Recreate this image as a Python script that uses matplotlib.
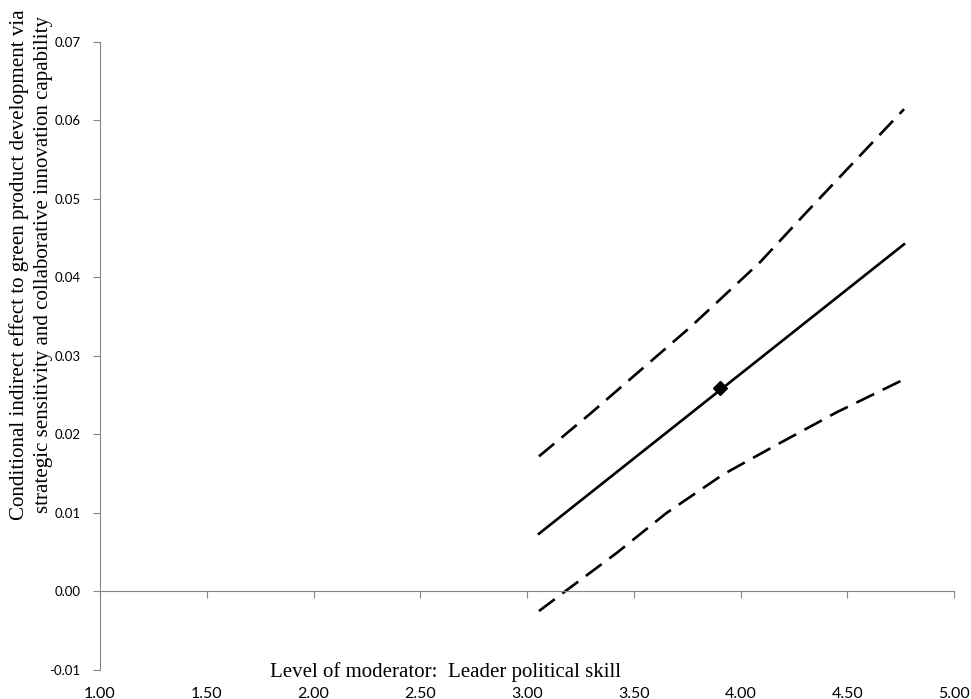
import matplotlib.pyplot as plt

# Valores (nivel del moderador vs. efecto indirecto condicional)
x_effect = [3.056, 4.766]
y_effect = [0.00735, 0.0442]

x_upper = [3.056, 3.295, 3.529, 3.763, 4.091, 4.310, 4.515, 4.766]
y_upper = [0.0172, 0.0226, 0.0281, 0.0336, 0.0419, 0.0483, 0.0542, 0.0614]

x_lower = [3.056, 3.178, 3.420, 3.654, 3.919, 4.185, 4.450, 4.766]
y_lower = [-0.0025, 0.0000, 0.0049, 0.0100, 0.0149, 0.0189, 0.0228, 0.0270]

x_point = [3.904]
y_point = [0.0259]

x_ticks = [1.0, 1.5, 2.0, 2.5, 3.0, 3.5, 4.0, 4.5, 5.0]
y_ticks = [-0.01, 0.0, 0.01, 0.02, 0.03, 0.04, 0.05, 0.06, 0.07]

grey = '#868686'

fig = plt.figure(figsize=(9.71, 6.99), dpi=100)
ax = fig.add_axes([0.103, 0.0415, 0.8795, 0.899])

ax.plot(x_effect, y_effect, color='black', linewidth=1.9)
ax.plot(x_upper, y_upper, color='black', linewidth=1.9, linestyle=(0, (7.5, 3.6)))
ax.plot(x_lower, y_lower, color='black', linewidth=1.9, linestyle=(0, (7.5, 3.6)))
ax.plot(x_point, y_point, marker='D', color='black', markersize=7, linestyle='none')

ax.set_xlim(1.0, 5.0)
ax.set_ylim(-0.01, 0.07)

# eje x cruzando en y=0, etiquetas abajo
ax.spines['top'].set_visible(False)
ax.spines['right'].set_visible(False)
ax.spines['left'].set_color(grey)
ax.spines['bottom'].set_position(('data', 0))
ax.spines['bottom'].set_color(grey)

ax.set_xticks(x_ticks)
ax.set_xticklabels([])
ax.tick_params(axis='x', direction='out', length=5, color=grey)

ax.set_yticks(y_ticks)
ax.set_yticklabels([f'{v:.2f}' for v in y_ticks], fontsize=9.5, family='Lato')
ax.tick_params(axis='y', direction='out', length=5, color=grey, pad=9)

sec = ax.secondary_xaxis(0.0)
sec.set_xticks(x_ticks)
sec.set_xticklabels([f'{v:.2f}' for v in x_ticks], fontsize=11.5, family='Lato')
sec.tick_params(length=0, pad=12)
sec.spines['bottom'].set_visible(False)

fig.text(0.459, 0.0315, 'Level of moderator:  Leader political skill',
         ha='center', va='baseline', fontsize=15, family='Liberation Serif')
fig.text(0.0195, 0.621, 'Conditional indirect effect to green product development via',
         ha='center', va='center', rotation=90, fontsize=15.1, family='Liberation Serif')
fig.text(0.0445, 0.621, 'strategic sensitivity and collaborative innovation capability',
         ha='center', va='center', rotation=90, fontsize=15.1, family='Liberation Serif')

plt.savefig('out.png', dpi=100)
